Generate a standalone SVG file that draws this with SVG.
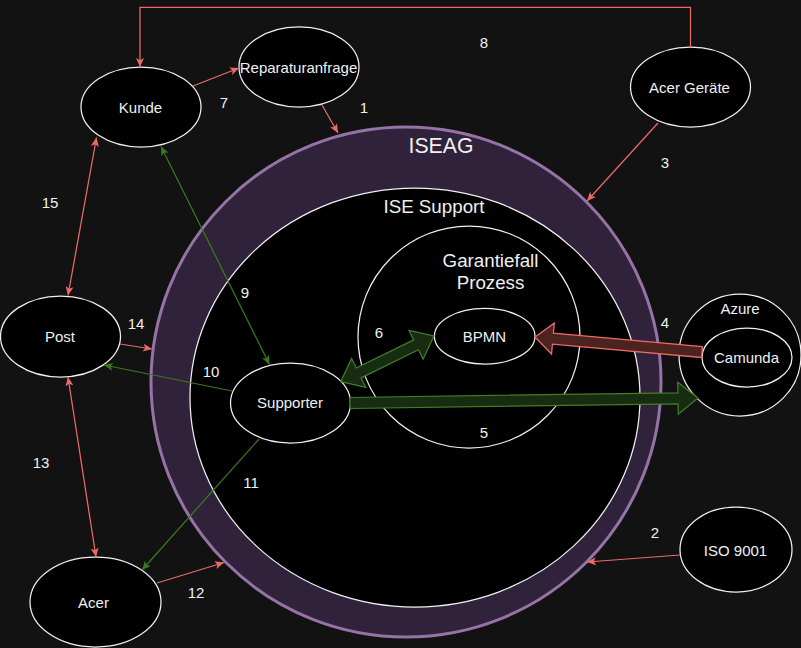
<svg xmlns="http://www.w3.org/2000/svg" width="801" height="648" viewBox="0 0 801 648">
<style>
  text { font-family: "Liberation Sans", Arial, sans-serif; fill: #f0f0f0; text-anchor: middle; }
  .lbl { font-size: 15px; }
  .num { font-size: 15px; }
  .node { fill: #000000; stroke: #f0f0f0; stroke-width: 1.25; }
  .red { fill: none; stroke: #ea6b66; stroke-width: 1.25; }
  .green { fill: none; stroke: #3a7a1d; stroke-width: 1.25; }
  .flexg { fill: #182c11; stroke: #3f7f2a; stroke-width: 1.25; stroke-linejoin: miter; }
  .flexr { fill: #4d2320; stroke: #ea6b66; stroke-width: 1.25; stroke-linejoin: miter; }
</style>
<defs>
  <marker id="ar" viewBox="0 0 9 8" markerWidth="9" markerHeight="8" refX="9" refY="4" orient="auto-start-reverse" markerUnits="userSpaceOnUse">
    <path d="M0,0 L9,4 L0,8 L2.2,4 Z" fill="#ea6b66"/>
  </marker>
  <marker id="ag" viewBox="0 0 9 8" markerWidth="9" markerHeight="8" refX="9" refY="4" orient="auto-start-reverse" markerUnits="userSpaceOnUse">
    <path d="M0,0 L9,4 L0,8 L2.2,4 Z" fill="#3a7a1d"/>
  </marker>
</defs>
<rect x="0" y="0" width="801" height="648" fill="#121212"/>

<g id="iseag">
  <circle cx="406" cy="382" r="255" fill="#30223a" stroke="#9673a6" stroke-width="3"/>
  <text x="441" y="153" style="font-size:21.25px">ISEAG</text>
</g>
<g id="ise-support">
  <ellipse class="node" cx="415" cy="397.5" rx="225" ry="209.5"/>
  <text x="434" y="212.7" style="font-size:18.75px">ISE Support</text>
</g>
<g id="garantiefall">
  <circle class="node" cx="469" cy="337" r="111"/>
  <text x="490.5" y="266.7" style="font-size:18.75px">Garantiefall</text>
  <text x="490.5" y="289.3" style="font-size:18.75px">Prozess</text>
</g>
<g id="bpmn">
  <ellipse class="node" cx="484.7" cy="336.2" rx="50.3" ry="27.8"/>
  <text class="lbl" x="484.5" y="342">BPMN</text>
</g>
<g id="supporter">
  <ellipse class="node" cx="290.5" cy="403" rx="60" ry="40"/>
  <text class="lbl" x="290" y="408.3">Supporter</text>
</g>
<g id="azure">
  <circle class="node" cx="740" cy="355" r="61"/>
  <text class="lbl" x="740" y="314">Azure</text>
</g>
<g id="camunda">
  <ellipse class="node" cx="747" cy="357.5" rx="45" ry="29.5"/>
  <text class="lbl" x="746.5" y="362.7">Camunda</text>
</g>
<g id="kunde">
  <ellipse class="node" cx="141" cy="107" rx="60" ry="40"/>
  <text class="lbl" x="140.5" y="112.8">Kunde</text>
</g>
<g id="reparaturanfrage">
  <ellipse class="node" cx="299" cy="67" rx="60" ry="40"/>
  <text class="lbl" x="298.5" y="72.7">Reparaturanfrage</text>
</g>
<g id="acer-geraete">
  <ellipse class="node" cx="690.5" cy="87" rx="60" ry="40"/>
  <text class="lbl" x="689.5" y="92.7">Acer Geräte</text>
</g>
<g id="post">
  <ellipse class="node" cx="60.5" cy="336.5" rx="60" ry="40.5"/>
  <text class="lbl" x="60" y="341.7">Post</text>
</g>
<g id="acer">
  <ellipse class="node" cx="95.5" cy="602" rx="65.5" ry="45"/>
  <text class="lbl" x="93.5" y="608">Acer</text>
</g>
<g id="iso9001">
  <ellipse class="node" cx="736" cy="549.5" rx="56" ry="42.5"/>
  <text class="lbl" x="735.5" y="555.5">ISO 9001</text>
</g>

<g id="connectors">
  <polyline class="red" points="690.5,47 690.5,7.3 140,7.3 140,67" marker-end="url(#ar)"/>
  <line class="red" x1="193" y1="86" x2="239" y2="68" marker-end="url(#ar)"/>
  <line class="red" x1="322" y1="105" x2="338" y2="133" marker-end="url(#ar)"/>
  <line class="red" x1="658" y1="123" x2="587" y2="201" marker-end="url(#ar)"/>
  <line class="red" x1="680" y1="555" x2="587" y2="562" marker-end="url(#ar)"/>
  <line class="red" x1="68" y1="295.5" x2="96.5" y2="137.5" marker-start="url(#ar)" marker-end="url(#ar)"/>
  <line class="red" x1="120" y1="344" x2="152" y2="349" marker-end="url(#ar)"/>
  <line class="red" x1="68" y1="377" x2="96" y2="557" marker-start="url(#ar)" marker-end="url(#ar)"/>
  <line class="red" x1="157" y1="583" x2="224" y2="562.5" marker-end="url(#ar)"/>
  <line class="green" x1="161" y1="146.5" x2="269.5" y2="364.5" marker-start="url(#ag)" marker-end="url(#ag)"/>
  <line class="green" x1="232" y1="391" x2="104" y2="365" marker-end="url(#ag)"/>
  <line class="green" x1="259" y1="439" x2="142" y2="570" marker-end="url(#ag)"/>

  <polygon class="flexg" points="340.7,381.7 365.70,387.27 361.08,377.84 418.46,349.74 423.08,359.17 434,336 409.00,330.43 413.62,339.86 356.24,367.96 351.62,358.53"/>
  <polygon class="flexg" points="350.08,408.5 678.08,403.79 678.23,414.29 698,398 677.77,382.29 677.92,392.79 349.92,397.5"/>
  <polygon class="flexr" points="702.49,346.52 553.42,333.13 554.32,323.17 535,337 551.54,354.05 552.44,344.09 701.51,357.48"/>

  <text class="num" x="224" y="108">7</text>
  <text class="num" x="364" y="113">1</text>
  <text class="num" x="484" y="47.5">8</text>
  <text class="num" x="665" y="167.5">3</text>
  <text class="num" x="50" y="207.5">15</text>
  <text class="num" x="136" y="328.5">14</text>
  <text class="num" x="245" y="298">9</text>
  <text class="num" x="211" y="376.5">10</text>
  <text class="num" x="379" y="337.5">6</text>
  <text class="num" x="665" y="327.5">4</text>
  <text class="num" x="484" y="437.5">5</text>
  <text class="num" x="41" y="467.5">13</text>
  <text class="num" x="251" y="487.5">11</text>
  <text class="num" x="196" y="597.5">12</text>
  <text class="num" x="655" y="537.5">2</text>
</g>
</svg>
